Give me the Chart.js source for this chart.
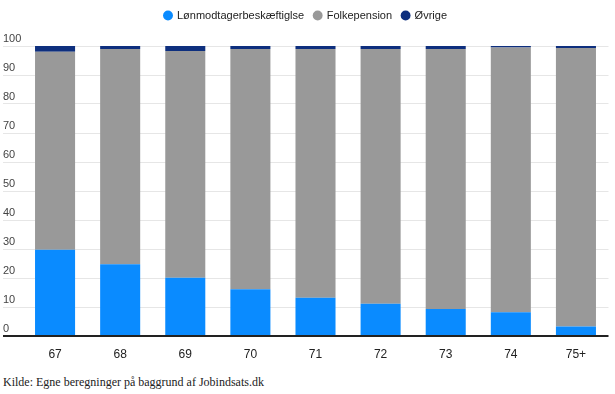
<!DOCTYPE html>
<html>
<head>
    <script src="https://cdn.jsdelivr.net/npm/chart.js@4.4.1/dist/chart.umd.min.js"></script>
    <style>
        body { margin: 0; background: #fff; }
        #wrap { position: relative; width: 615px; height: 365px; }
        #kilde { position: absolute; left: 3px; top: 375px; font-family: "Liberation Serif", "Times New Roman", serif; font-size: 12px; color: #222; }
    </style>
</head>
<body>

    <div id="wrap">
        <canvas id="myChart"></canvas>
    </div>
    <div id="kilde">Kilde: Egne beregninger på baggrund af Jobindsats.dk</div>

    <script type="text/javascript">
        // alder
        const labels = ['67', '68', '69', '70', '71', '72', '73', '74', '75+'];

        // andel i pct.
        const loenmodtager = [29.7, 24.7, 20.1, 16.1, 13.2, 11.1, 9.3, 8.2, 3.3];
        const folkepension = [68.3, 74.3, 78.2, 82.9, 85.8, 87.9, 89.7, 91.3, 96.0];
        const oevrige = [2.0, 1.0, 1.7, 1.0, 1.0, 1.0, 1.0, 0.5, 0.7];

        const yTicks = [0, 10, 20, 30, 40, 50, 60, 70, 80, 90, 100];

        Chart.defaults.font.family = 'Arial, "Liberation Sans", sans-serif';

        // fast hoejde paa legenden, saa plotomraadet starter samme sted
        const legendHeight = {
            id: 'legendHeight',
            beforeLayout(chart) {
                const lg = chart.legend;
                if (lg && !lg._fixed) {
                    const fit = lg.fit;
                    lg.fit = function () {
                        fit.call(this);
                        this.height = 46;
                    };
                    lg._fixed = true;
                }
            }
        };

        const data = {
            labels: labels,
            datasets: [
                { label: 'Lønmodtagerbeskæftiglse', data: loenmodtager, backgroundColor: '#0a8bff' },
                { label: 'Folkepension', data: folkepension, backgroundColor: '#999999' },
                { label: 'Øvrige', data: oevrige, backgroundColor: '#0e2f7e' }
            ]
        };

        const config = {
            type: 'bar',
            data: data,
            plugins: [legendHeight],
            options: {
                responsive: true,
                maintainAspectRatio: false,
                animation: false,
                layout: { padding: { left: 3, right: 6.5, top: 0, bottom: 0 } },
                datasets: {
                    bar: { categoryPercentage: 1, barPercentage: 0.615 }
                },
                plugins: {
                    legend: {
                        position: 'top',
                        labels: {
                            usePointStyle: true,
                            pointStyle: 'circle',
                            boxWidth: 7,
                            boxHeight: 7,
                            padding: 10,
                            color: '#222',
                            font: { size: 11 }
                        }
                    },
                    tooltip: { enabled: false }
                },
                scales: {
                    x: {
                        stacked: true,
                        grid: { display: false },
                        border: { display: false },
                        ticks: { color: '#222', font: { size: 12 }, padding: 3 },
                        afterFit(scale) { scale.height = 29; }
                    },
                    y: {
                        stacked: true,
                        min: 0,
                        max: 100,
                        afterBuildTicks(scale) {
                            scale.ticks = yTicks.map(v => ({ value: v }));
                        },
                        afterFit(scale) { scale.width = 19.5; },
                        border: { display: false },
                        grid: {
                            color: ctx => ctx.tick && ctx.tick.value === 0 ? '#222' : '#e6e6e6',
                            lineWidth: ctx => ctx.tick && ctx.tick.value === 0 ? 2 : 1,
                            drawTicks: true,
                            tickLength: 19.5
                        },
                        ticks: {
                            crossAlign: 'far',
                            labelOffset: -7,
                            color: '#444',
                            font: { size: 11 }
                        }
                    }
                }
            }
        };

        const chart = new Chart(
            document.getElementById('myChart'),
            config
        );
    </script>
</body>
</html>
